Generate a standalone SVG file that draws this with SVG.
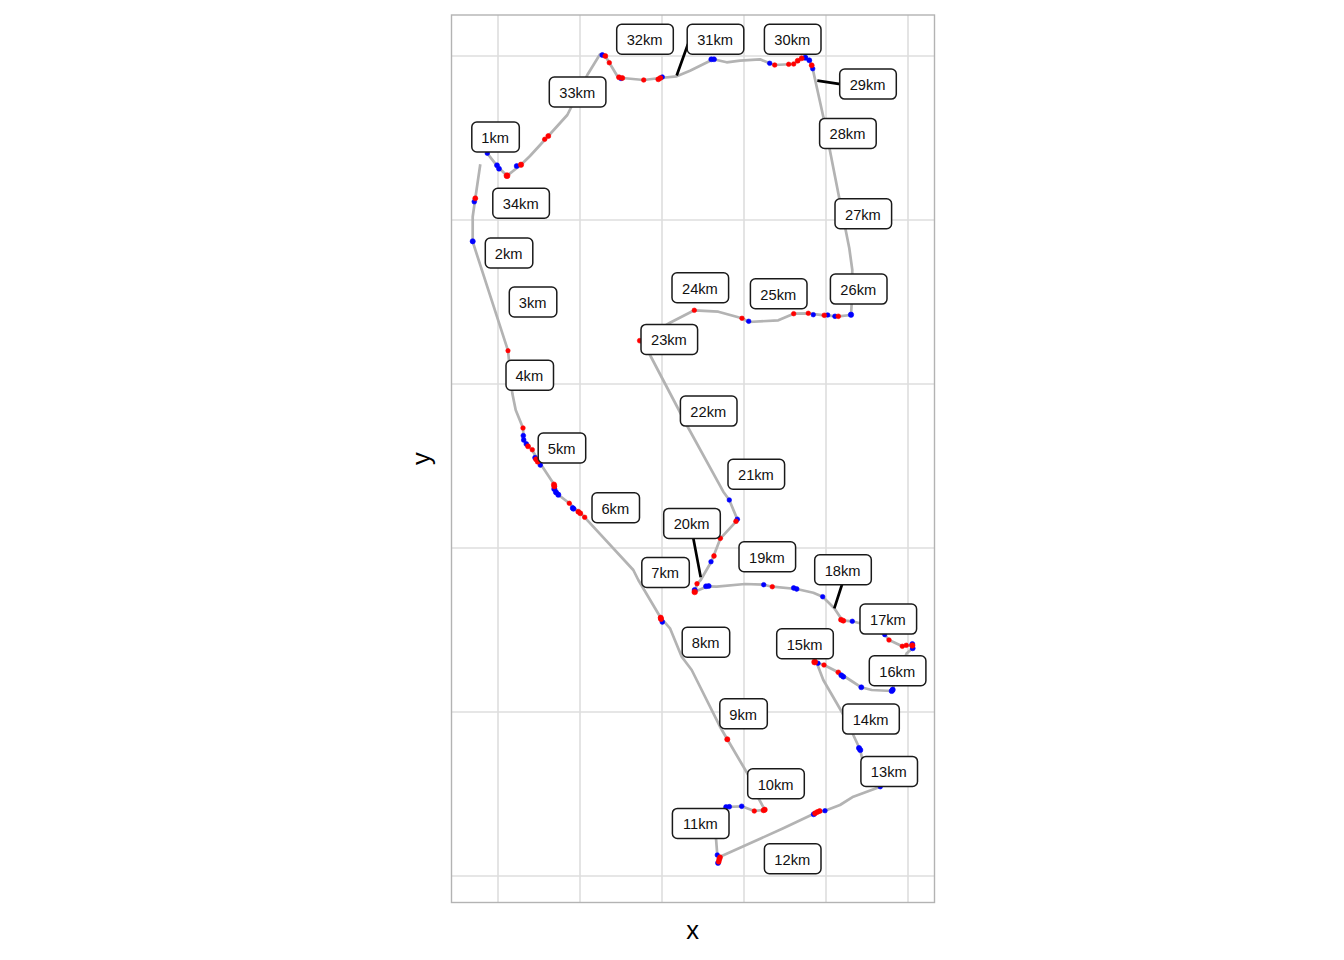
<svg xmlns="http://www.w3.org/2000/svg" width="1344" height="960" viewBox="0 0 1344 960">
<style>
.grid{stroke:#dedede;stroke-width:1.6;fill:none}
.route{stroke:#b3b3b3;stroke-width:2.7;fill:none;stroke-linejoin:round;stroke-linecap:butt}
.seg{stroke:#000;stroke-width:2.7;fill:none}
.r{fill:#ff0000;stroke:#ff0000;stroke-width:.6}.b{fill:#0000ff;stroke:#0000ff;stroke-width:.6}
.lab rect{fill:#fff;stroke:#1a1a1a;stroke-width:1.5}
text{font-family:"Liberation Sans",Arial,sans-serif;fill:#000}
.lab text{font-size:14.67px;text-anchor:middle;fill:#111;transform:translate(-.4px,.7px)}
.axis{font-size:25.5px;text-anchor:middle}
</style>
<rect width="1344" height="960" fill="#fff"/>
<g id="grid">
<path class="grid" d="M451.5 56H934.5M451.5 220H934.5M451.5 384H934.5M451.5 548H934.5M451.5 712H934.5M451.5 876H934.5M498 15V902.5M580 15V902.5M662 15V902.5M744 15V902.5M826 15V902.5M908 15V902.5"/>
</g>
<g id="connectors">
<path class="route" d="M480.3 164.3L475.5 197L472.7 216.7L472.7 241.7L508 350.7L512.3 393.3L515.7 410L523 428L523.7 440L532 450L541.3 465L553.3 483.3L558.3 494.7L569.3 503.3L584.7 517.3L633.3 570L638.3 580L660.7 617.7L670 628.3L681.7 656.7L691.7 670L696.7 680L720 726.7L727.3 739.3L748.3 775L756.7 795L764.7 809.7L754.3 811L741.7 806.3L726 807L716 815L716 838.3L717.3 855L718.7 861.7L720 856.7L783.3 828.3L815 813.3L825 810.7L840 805L853.3 796.7L880.3 786.7L861.7 756.7L860.3 750L853.3 735L841.7 711.7L823.3 680L816.7 662.7L824 665L838.3 672.3L850 680L861.3 687.3L871.7 690L891.7 691L906.7 653.3L912.7 648.3L912.3 645L902.3 646.3L889 640L884.7 634.7L860 623.3L852.3 621.3L842.3 620.3L834.3 608.3L822.7 596.7L813.3 592.7L796.7 589L772.3 586.7L763.7 584.7L745 584L716.7 586.7L707.7 586.3L694.7 591.7L697.3 583.7L700.7 580L711.3 561.7L720.3 538.7L736 521.7L737.3 519.3L729.3 500L723.3 491.7L686.7 425L650 355L640 340.7L670 322.7L694.3 310.3L718.3 311.7L742 318.3L748.7 322L778.3 320.3L793.7 313.7L808.3 313.3L824.3 315.3L838.3 316.3L851 315L851.7 303L852.3 270L849.3 248.3L838.3 193.3L823.3 116.7L812.7 68.7L809.3 60.3L805.3 57.7L801.7 58.3L797.7 60.7L793.7 64L774.7 65L769.7 63.3L760 59.3L740 60.7L726.7 62.3L713.3 59.3L690 70.7L676.7 76.3L660.3 78L643.7 80L622.3 78L617.7 76.7L605.3 56L600 54.3L587.3 75L567.3 115L548.3 136L530 156L521 164.7L507 175.7L497.7 166.7L487.3 153.3"/>
<path class="seg" d="M817.3 80.7L842 84.4M692.7 535L700.7 577.3M842.5 583L834.3 608.3M676.7 75.5L688 44"/>
</g>
<g id="points">
<circle class="b" cx="487.3" cy="153.3" r="2.3"/><circle class="b" cx="497" cy="165.3" r="2.5"/><circle class="b" cx="499" cy="168.7" r="2.5"/><circle class="r" cx="507" cy="175.7" r="3"/><circle class="b" cx="516.7" cy="166" r="2.5"/><circle class="r" cx="521" cy="164.7" r="2.7"/><circle class="r" cx="544.7" cy="139.3" r="2.3"/><circle class="r" cx="548.3" cy="136" r="2.5"/><circle class="b" cx="602.3" cy="55" r="2.5"/><circle class="r" cx="605.3" cy="56" r="2.5"/><circle class="r" cx="609.3" cy="62.7" r="2.3"/><circle class="b" cx="621" cy="78.5" r="2.3"/><circle class="r" cx="619" cy="77.3" r="2.5"/><circle class="r" cx="622.3" cy="78" r="2.5"/><circle class="r" cx="643.7" cy="80" r="2.3"/><circle class="b" cx="662.3" cy="77" r="2.3"/><circle class="r" cx="658.3" cy="79.3" r="2.5"/><circle class="r" cx="660.3" cy="78" r="2.5"/>
<circle class="b" cx="474.3" cy="201.7" r="2.4"/><circle class="r" cx="475.3" cy="198.3" r="2.5"/><circle class="b" cx="472.7" cy="241.3" r="2.6"/>
<circle class="b" cx="711.3" cy="59.3" r="2.5"/><circle class="b" cx="714" cy="59.3" r="2.5"/><circle class="b" cx="769.7" cy="63.3" r="2.3"/><circle class="r" cx="774.7" cy="65" r="2.3"/><circle class="r" cx="788.7" cy="64.3" r="2.3"/><circle class="r" cx="793.7" cy="64" r="2.3"/><circle class="b" cx="805.3" cy="57.7" r="2.6"/><circle class="b" cx="809.3" cy="60.3" r="2.5"/><circle class="r" cx="797.7" cy="60.7" r="2.5"/><circle class="r" cx="801.7" cy="58.3" r="2.5"/><circle class="b" cx="812.7" cy="68.7" r="2.3"/><circle class="r" cx="811.7" cy="65.3" r="2.5"/>
<circle class="r" cx="508" cy="350.7" r="2.2"/><circle class="r" cx="523" cy="428" r="2.3"/><circle class="b" cx="523.3" cy="435.7" r="2.4"/><circle class="b" cx="523.7" cy="440" r="2.4"/><circle class="b" cx="526.3" cy="444" r="2.4"/><circle class="r" cx="528" cy="446.3" r="2.5"/><circle class="r" cx="532.3" cy="449.7" r="2.3"/><circle class="b" cx="535" cy="457.7" r="2.4"/><circle class="b" cx="540.3" cy="465" r="2.4"/><circle class="r" cx="536" cy="459.3" r="2.5"/><circle class="r" cx="537.7" cy="461.7" r="2.5"/>
<circle class="b" cx="554.3" cy="489" r="2.6"/><circle class="b" cx="556" cy="492.3" r="2.6"/><circle class="b" cx="558.3" cy="494.7" r="2.6"/><circle class="r" cx="554" cy="484.5" r="2.6"/><circle class="r" cx="554.3" cy="486.3" r="2.6"/><circle class="r" cx="569.3" cy="503.3" r="2.3"/><circle class="b" cx="572.7" cy="508" r="2.5"/><circle class="b" cx="573.5" cy="508.8" r="2.5"/><circle class="r" cx="578.3" cy="511.7" r="2.5"/><circle class="r" cx="580.3" cy="513.3" r="2.5"/><circle class="r" cx="584.7" cy="517.3" r="2.3"/>
<circle class="b" cx="662.3" cy="622" r="2.4"/><circle class="r" cx="660.7" cy="617.7" r="2.6"/><circle class="r" cx="661" cy="619" r="2.6"/>
<circle class="b" cx="729.3" cy="500" r="2.3"/><circle class="b" cx="737.3" cy="519.3" r="2.4"/><circle class="r" cx="736" cy="521.3" r="2.4"/><circle class="r" cx="720.3" cy="538.3" r="2.4"/><circle class="r" cx="714" cy="556" r="2.4"/><circle class="b" cx="711" cy="561.7" r="2.3"/><circle class="r" cx="697" cy="583.7" r="2.3"/><circle class="b" cx="694.7" cy="590" r="2.6"/><circle class="r" cx="694.7" cy="592" r="2.8"/><circle class="b" cx="706" cy="586.3" r="2.5"/><circle class="b" cx="708.7" cy="586" r="2.5"/>
<circle class="b" cx="763.7" cy="584.7" r="2.3"/><circle class="r" cx="772.3" cy="586.7" r="2.3"/><circle class="b" cx="793.7" cy="588" r="2.4"/><circle class="b" cx="796.7" cy="589" r="2.4"/><circle class="b" cx="822.7" cy="596.7" r="2.3"/><circle class="r" cx="841" cy="619.7" r="2.5"/><circle class="r" cx="843.3" cy="620.7" r="2.5"/><circle class="b" cx="852.3" cy="621.3" r="2.3"/><circle class="b" cx="884.7" cy="634.7" r="2.2"/><circle class="r" cx="889" cy="640" r="2.3"/><circle class="r" cx="902.3" cy="646.3" r="2.3"/><circle class="r" cx="906.3" cy="645.3" r="2.3"/><circle class="b" cx="912.7" cy="648.3" r="2.5"/><circle class="b" cx="912.3" cy="644" r="2.5"/><circle class="r" cx="912.3" cy="645.5" r="2.7"/>
<circle class="b" cx="818" cy="663.3" r="2.3"/><circle class="r" cx="814.7" cy="662" r="3"/><circle class="r" cx="824" cy="665" r="2.3"/><circle class="r" cx="838.3" cy="672.3" r="2.4"/><circle class="b" cx="841.3" cy="675.3" r="2.5"/><circle class="b" cx="843.3" cy="676.7" r="2.5"/><circle class="b" cx="861.3" cy="687.3" r="2.5"/><circle class="b" cx="891.7" cy="691" r="2.6"/><circle class="b" cx="892.7" cy="689.7" r="2.6"/>
<circle class="r" cx="639.7" cy="340.7" r="2.4"/><circle class="r" cx="694.3" cy="310.3" r="2.3"/><circle class="r" cx="742" cy="318.3" r="2.3"/><circle class="b" cx="748.7" cy="321.3" r="2.3"/><circle class="r" cx="793.7" cy="313.7" r="2.3"/><circle class="r" cx="808.3" cy="313.3" r="2.3"/><circle class="b" cx="813.3" cy="314.7" r="2.3"/><circle class="b" cx="827.7" cy="315" r="2.3"/><circle class="r" cx="824.3" cy="315.3" r="2.4"/><circle class="b" cx="835" cy="316.3" r="2.4"/><circle class="r" cx="838.3" cy="316.3" r="2.4"/><circle class="b" cx="851" cy="314.7" r="2.7"/>
<circle class="r" cx="727.3" cy="739.3" r="2.6"/><circle class="r" cx="763.5" cy="810.3" r="2.5"/><circle class="r" cx="764.7" cy="809.7" r="2.6"/><circle class="r" cx="754.3" cy="811" r="2.3"/><circle class="b" cx="741.7" cy="806.3" r="2.4"/><circle class="b" cx="726" cy="807" r="2.4"/><circle class="b" cx="729.3" cy="806.7" r="2.4"/><circle class="b" cx="717.3" cy="855" r="2.3"/><circle class="b" cx="718" cy="863" r="2.5"/><circle class="r" cx="718.7" cy="861.7" r="2.5"/><circle class="r" cx="719.3" cy="859.3" r="2.5"/><circle class="r" cx="720" cy="857.3" r="2.5"/>
<circle class="b" cx="813.7" cy="814.3" r="2.5"/><circle class="r" cx="815" cy="813.3" r="2.5"/><circle class="r" cx="817.3" cy="812" r="2.5"/><circle class="r" cx="819.7" cy="811" r="2.5"/><circle class="b" cx="825" cy="810.7" r="2.3"/><circle class="b" cx="880.3" cy="786.7" r="2.3"/><circle class="b" cx="859" cy="748" r="2.6"/><circle class="b" cx="860.3" cy="750" r="2.6"/>
</g>
<g id="labels">
<g id="n1km" class="lab"><rect x="471.8" y="122" width="47.5" height="30" rx="5"/><text x="495.5" y="142.3">1km</text></g>
<g id="n2km" class="lab"><rect x="485.3" y="238" width="47.5" height="30" rx="5"/><text x="509" y="258.3">2km</text></g>
<g id="n3km" class="lab"><rect x="509.3" y="287" width="47.5" height="30" rx="5"/><text x="533" y="307.3">3km</text></g>
<g id="n4km" class="lab"><rect x="506" y="360.3" width="47.5" height="30" rx="5"/><text x="529.7" y="380.6">4km</text></g>
<g id="n5km" class="lab"><rect x="538.2" y="433" width="47.5" height="30" rx="5"/><text x="562" y="453.3">5km</text></g>
<g id="n6km" class="lab"><rect x="592" y="492.8" width="47.5" height="30" rx="5"/><text x="615.7" y="513.1">6km</text></g>
<g id="n7km" class="lab"><rect x="641.8" y="557.5" width="47.5" height="30" rx="5"/><text x="665.5" y="577.8">7km</text></g>
<g id="n8km" class="lab"><rect x="682.2" y="627.3" width="47.5" height="30" rx="5"/><text x="706" y="647.6">8km</text></g>
<g id="n9km" class="lab"><rect x="719.8" y="698.8" width="47.5" height="30" rx="5"/><text x="743.5" y="719.1">9km</text></g>
<g id="n10km" class="lab"><rect x="747.7" y="768.8" width="56.6" height="30" rx="5"/><text x="776" y="789.1">10km</text></g>
<g id="n11km" class="lab"><rect x="672.4" y="808.4" width="56.6" height="30" rx="5"/><text x="700.7" y="828.7">11km</text></g>
<g id="n12km" class="lab"><rect x="764.4" y="843.8" width="56.6" height="30" rx="5"/><text x="792.7" y="864.1">12km</text></g>
<g id="n13km" class="lab"><rect x="860.9" y="756.4" width="56.6" height="30" rx="5"/><text x="889.2" y="776.7">13km</text></g>
<g id="n14km" class="lab"><rect x="842.7" y="704.1" width="56.6" height="30" rx="5"/><text x="871" y="724.4">14km</text></g>
<g id="n15km" class="lab"><rect x="776.7" y="628.8" width="56.6" height="30" rx="5"/><text x="805" y="649.1">15km</text></g>
<g id="n16km" class="lab"><rect x="869.3" y="655.8" width="56.6" height="30" rx="5"/><text x="897.6" y="676.1">16km</text></g>
<g id="n17km" class="lab"><rect x="860" y="604.1" width="56.6" height="30" rx="5"/><text x="888.3" y="624.4">17km</text></g>
<g id="n18km" class="lab"><rect x="814.7" y="554.8" width="56.6" height="30" rx="5"/><text x="843" y="575.1">18km</text></g>
<g id="n19km" class="lab"><rect x="739" y="541.8" width="56.6" height="30" rx="5"/><text x="767.3" y="562.1">19km</text></g>
<g id="n20km" class="lab"><rect x="663.7" y="508.4" width="56.6" height="30" rx="5"/><text x="692" y="528.7">20km</text></g>
<g id="n21km" class="lab"><rect x="728" y="459.2" width="56.6" height="30" rx="5"/><text x="756.3" y="479.5">21km</text></g>
<g id="n22km" class="lab"><rect x="680.4" y="396.1" width="56.6" height="30" rx="5"/><text x="708.7" y="416.4">22km</text></g>
<g id="n23km" class="lab"><rect x="641" y="324.4" width="56.6" height="30" rx="5"/><text x="669.3" y="344.7">23km</text></g>
<g id="n24km" class="lab"><rect x="672" y="272.8" width="56.6" height="30" rx="5"/><text x="700.3" y="293.1">24km</text></g>
<g id="n25km" class="lab"><rect x="750.4" y="278.8" width="56.6" height="30" rx="5"/><text x="778.7" y="299.1">25km</text></g>
<g id="n26km" class="lab"><rect x="830.4" y="274.1" width="56.6" height="30" rx="5"/><text x="858.7" y="294.4">26km</text></g>
<g id="n27km" class="lab"><rect x="835" y="198.8" width="56.6" height="30" rx="5"/><text x="863.3" y="219.1">27km</text></g>
<g id="n28km" class="lab"><rect x="819.6" y="118.4" width="56.6" height="30" rx="5"/><text x="847.9" y="138.7">28km</text></g>
<g id="n29km" class="lab"><rect x="839.7" y="69.1" width="56.6" height="30" rx="5"/><text x="868" y="89.4">29km</text></g>
<g id="n30km" class="lab"><rect x="764.4" y="24.2" width="56.6" height="30" rx="5"/><text x="792.7" y="44.5">30km</text></g>
<g id="n31km" class="lab"><rect x="687.2" y="24.2" width="56.6" height="30" rx="5"/><text x="715.5" y="44.5">31km</text></g>
<g id="n32km" class="lab"><rect x="616.7" y="24.2" width="56.6" height="30" rx="5"/><text x="645" y="44.5">32km</text></g>
<g id="n33km" class="lab"><rect x="549.3" y="77" width="56.6" height="30" rx="5"/><text x="577.6" y="97.3">33km</text></g>
<g id="n34km" class="lab"><rect x="492.8" y="188.2" width="56.6" height="30" rx="5"/><text x="521.1" y="208.5">34km</text></g>
</g>
<rect id="border" x="451.5" y="15" width="483" height="887.5" fill="none" stroke="#b3b3b3" stroke-width="1.4"/>
<text class="axis" x="692.5" y="939">x</text>
<text class="axis" transform="translate(430 458.5) rotate(-90)">y</text>
</svg>
